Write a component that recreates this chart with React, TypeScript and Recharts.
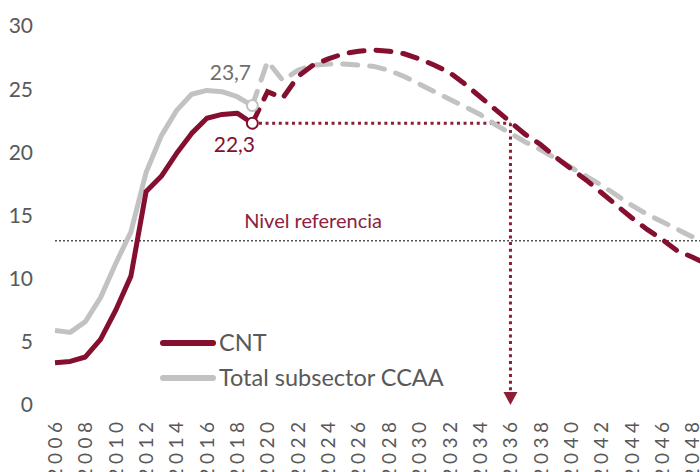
import React from 'react';
import { LineChart, Line, XAxis, YAxis, ReferenceLine, ReferenceDot, Legend } from 'recharts';

const years = [
  2006, 2007, 2008, 2009, 2010, 2011, 2012, 2013, 2014, 2015, 2016, 2017, 2018, 2019,
  2020, 2021, 2022, 2023, 2024, 2025, 2026, 2027, 2028, 2029, 2030, 2031, 2032, 2033,
  2034, 2035, 2036, 2037, 2038, 2039, 2040, 2041, 2042, 2043, 2044, 2045, 2046, 2047,
  2048, 2049, 2050,
];

// Historical (2006-2019)
const cntHist = [3.35, 3.45, 3.8, 5.2, 7.5, 10.2, 16.9, 18.1, 19.9, 21.5, 22.7, 23.0, 23.1, 22.3];
const ccaaHist = [5.9, 5.75, 6.6, 8.5, 11.2, 13.7, 18.4, 21.3, 23.3, 24.6, 24.9, 24.8, 24.4, 23.7];

// Projection (2019-2050)
const cntProj = [
  22.3, 24.8, 24.3, 26.0, 26.9, 27.4, 27.8, 28.0, 28.1, 28.0, 27.8, 27.4, 26.9, 26.3,
  25.4, 24.4, 23.4, 22.4, 21.4, 20.6, 19.6, 18.7, 17.8, 16.8, 15.8, 14.8, 13.9, 13.1,
  12.2, 11.7, 11.1, 10.6,
];
const ccaaProj = [
  23.7, 27.2, 25.7, 26.5, 26.9, 27.0, 27.0, 26.9, 26.8, 26.5, 26.0, 25.4, 24.8, 24.2,
  23.6, 23.0, 22.2, 21.5, 20.8, 20.2, 19.5, 18.8, 18.1, 17.4, 16.6, 15.8, 15.1, 14.5,
  13.9, 13.3, 12.8, 12.3,
];

const xTicks = [
  2006, 2008, 2010, 2012, 2014, 2016, 2018, 2020, 2022, 2024, 2026, 2028, 2030, 2032,
  2034, 2036, 2038, 2040, 2042, 2044, 2046, 2048, 2050,
];
const yTicks = [0, 5, 10, 15, 20, 25, 30];

const seriesNames = ['CNT', 'Total subsector CCAA'];
const referenceLevel = 13;
const referenceLabel = 'Nivel referencia';
const referenceLabelYear = 2023;
const lastHistYear = 2019;
const crossingYear = 2036;
const crossingValue = 22.3;

const MAROON = '#850F2F';
const ARROW = '#8A1F35';
const GRAY = '#C2C2C2';
const TEXT = '#595959';
const FONT = 'Lato, "Open Sans", sans-serif';

const projStart = years.indexOf(lastHistYear);
const data = years.map((year, i) => ({
  year,
  cntHist: i < cntHist.length ? cntHist[i] : null,
  ccaaHist: i < ccaaHist.length ? ccaaHist[i] : null,
  cntProj: i >= projStart ? cntProj[i - projStart] : null,
  ccaaProj: i >= projStart ? ccaaProj[i - projStart] : null,
}));

const fmt = (v: number) => String(v).replace('.', ',');

const makeEndDot = (color: string, labelColor: string, dx: number, dy: number) => (props: any) => {
  const { cx, cy, payload, index, value } = props;
  if (!payload || payload.year !== lastHistYear || cx == null || cy == null) {
    return <g key={`nd-${index}`} />;
  }
  const v = Array.isArray(value) ? value[1] : value;
  return (
    <g key={`ed-${index}`}>
      <circle cx={cx} cy={cy} r={5.5} fill="#fff" stroke={color} strokeWidth={2} />
      <text
        x={cx + dx}
        y={cy + dy}
        textAnchor="middle"
        fill={labelColor}
        fontSize={21}
        fontFamily={FONT}
      >
        {fmt(v)}
      </text>
    </g>
  );
};

const XTick = (props: any) => {
  const { x, y, payload } = props;
  return (
    <text
      x={x}
      y={y}
      transform={`rotate(-90, ${x}, ${y})`}
      textAnchor="end"
      dy="0.36em"
      fill={TEXT}
      fontSize={19}
      fontFamily={FONT}
      letterSpacing={4.5}
    >
      {payload.value}
    </text>
  );
};

const legendColors = [MAROON, GRAY];

const LegendContent = () => (
  <div style={{ fontFamily: FONT, fontSize: 23.5, color: TEXT, lineHeight: 1 }}>
    {seriesNames.map((name, i) => (
      <div key={name} style={{ display: 'flex', alignItems: 'center', height: 35, whiteSpace: 'nowrap' }}>
        <svg width={58} height={10} style={{ display: 'block' }}>
          <line x1={5} x2={55} y1={5} y2={5} stroke={legendColors[i]} strokeWidth={6} strokeLinecap="round" />
        </svg>
        <span style={{ marginLeft: 3 }}>{name}</span>
      </div>
    ))}
  </div>
);

const Arrowhead = (props: any) => {
  const { cx, cy } = props;
  return <polygon points={`${cx - 7},${cy - 13} ${cx + 7},${cy - 13} ${cx},${cy}`} fill={ARROW} />;
};

export default function App() {
  return (
    <div style={{ position: 'absolute', left: 0, top: 0, width: 700, height: 472, overflow: 'hidden', background: '#fff' }}>
      <LineChart
        width={723}
        height={472}
        data={data}
        margin={{ top: 26, right: 0, bottom: 0, left: 0 }}
      >
        <XAxis
          dataKey="year"
          type="number"
          domain={[2006, 2050]}
          ticks={xTicks}
          interval={0}
          axisLine={false}
          tickLine={false}
          tickSize={0}
          tickMargin={12.5}
          height={67}
          tick={<XTick />}
        />
        <YAxis
          type="number"
          domain={[0, 30]}
          ticks={yTicks}
          axisLine={false}
          tickLine={false}
          tickSize={0}
          tickMargin={22}
          width={55}
          tick={{ fill: TEXT, fontSize: 21, fontFamily: FONT }}
        />
        <ReferenceLine
          y={referenceLevel}
          stroke="#555"
          strokeWidth={1.5}
          strokeDasharray="2 2"
          label={(p: any) => {
            const vb = p.viewBox || {};
            return (
              <text
                x={vb.x + (referenceLabelYear - 2006) * (vb.width / 44)}
                y={vb.y - 12.5}
                textAnchor="middle"
                fill="#8B2340"
                fontSize={20}
                fontFamily={FONT}
              >
                {referenceLabel}
              </text>
            );
          }}
        />
        <ReferenceLine
          segment={[{ x: lastHistYear, y: crossingValue }, { x: crossingYear, y: crossingValue }]}
          stroke={ARROW}
          strokeWidth={3}
          strokeDasharray="3 3.6"
        />
        <ReferenceLine
          segment={[{ x: crossingYear, y: crossingValue }, { x: crossingYear, y: 1 }]}
          stroke={ARROW}
          strokeWidth={3}
          strokeDasharray="3 3.6"
        />
        <ReferenceDot x={crossingYear} y={0} r={7} shape={<Arrowhead />} />
        <Line
          dataKey="ccaaProj"
          stroke={GRAY}
          strokeWidth={5}
          strokeDasharray="15 12"
          strokeLinecap="round"
          dot={false}
          activeDot={false}
          isAnimationActive={false}
          legendType="none"
        />
        <Line
          dataKey="cntProj"
          stroke={MAROON}
          strokeWidth={5}
          strokeDasharray="15 12"
          strokeLinecap="round"
          dot={false}
          activeDot={false}
          isAnimationActive={false}
          legendType="none"
        />
        <Line
          dataKey="ccaaHist"
          name={seriesNames[1]}
          stroke={GRAY}
          strokeWidth={5}
          strokeLinejoin="round"
          dot={makeEndDot(GRAY, '#6E6E6E', -22, -26)}
          activeDot={false}
          isAnimationActive={false}
        />
        <Line
          dataKey="cntHist"
          name={seriesNames[0]}
          stroke={MAROON}
          strokeWidth={5}
          strokeLinejoin="round"
          dot={makeEndDot(MAROON, MAROON, -18, 29)}
          activeDot={false}
          isAnimationActive={false}
        />
        <Legend
          layout="horizontal"
          verticalAlign="middle"
          align="center"
          content={<LegendContent />}
          wrapperStyle={{ left: 158, top: 325, width: 'auto', height: 'auto' }}
        />
      </LineChart>
    </div>
  );
}
